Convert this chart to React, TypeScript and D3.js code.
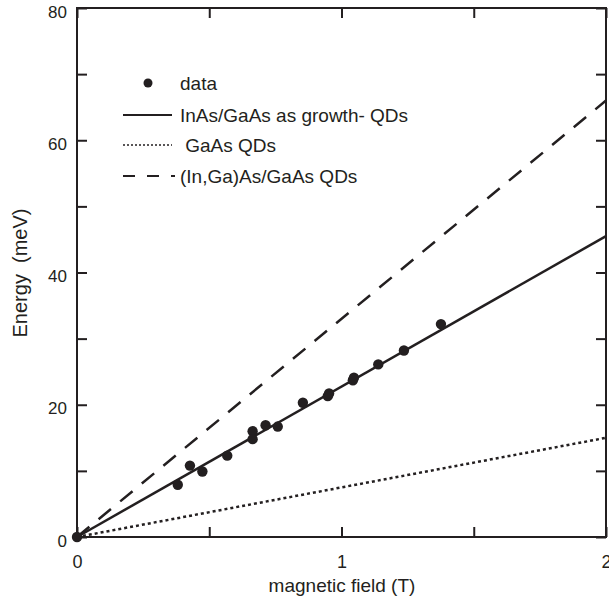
import React, { useRef, useEffect } from 'react';
import { select, scaleLinear, axisBottom, axisLeft, axisTop, axisRight, line } from 'd3';

// measured points (B in T, E in meV)
const fieldT = [0, 0.381, 0.427, 0.474, 0.568, 0.664, 0.664, 0.713, 0.759, 0.854, 0.948, 0.953, 1.043, 1.047, 1.139, 1.236, 1.376];
const energyMeV = [0, 7.9, 10.8, 9.9, 12.3, 16.0, 14.8, 16.9, 16.7, 20.3, 21.3, 21.7, 23.7, 24.1, 26.1, 28.2, 32.2];

// model lines: energy at 0 T and at 2 T
const lineField = [0, 2];
const inasLine = [0, 45.5];
const gaasLine = [0, 15];
const ingaasLine = [0, 66];

const xTicks = [0, 0.5, 1, 1.5, 2];
const yTicks = [0, 10, 20, 30, 40, 50, 60, 70, 80];

const legendLabels = ['data', 'InAs/GaAs as growth- QDs', ' GaAs QDs', '(In,Ga)As/GaAs QDs'];

const ink = '#231f20';
const font = 'Liberation Sans, Arial, Helvetica, sans-serif';

function App() {
  const ref = useRef(null);

  useEffect(() => {
    const svg = select(ref.current);
    svg.selectAll('*').remove();

    const x = scaleLinear().domain([0, 2]).range([77, 606]);
    const y = scaleLinear().domain([0, 80]).range([537, 8]);

    const fmtX = (d) => (d % 1 === 0 ? String(d) : '');
    const fmtY = (d) => (d % 20 === 0 ? String(d) : '');

    const styleAxis = (g) => {
      g.select('.domain').remove();
      g.selectAll('line').attr('stroke', ink).attr('stroke-width', 2);
      g.selectAll('text').attr('fill', ink).attr('font-size', 18).attr('font-family', font);
    };

    svg.append('g').attr('transform', 'translate(0,537)')
      .call(axisBottom(x).tickValues(xTicks).tickSizeInner(-10).tickSizeOuter(0).tickPadding(18).tickFormat(fmtX))
      .call(styleAxis);
    svg.append('g').attr('transform', 'translate(0,8)')
      .call(axisTop(x).tickValues(xTicks).tickSizeInner(-10).tickSizeOuter(0).tickFormat(() => ''))
      .call(styleAxis);
    svg.append('g').attr('transform', 'translate(77,0)')
      .call(axisLeft(y).tickValues(yTicks).tickSizeInner(-10).tickSizeOuter(0).tickPadding(10).tickFormat(fmtY))
      .call(styleAxis)
      .call((g) => g.selectAll('text').attr('font-size', 17).attr('dy', '0.53em'));
    svg.append('g').attr('transform', 'translate(606,0)')
      .call(axisRight(y).tickValues(yTicks).tickSizeInner(-10).tickSizeOuter(0).tickFormat(() => ''))
      .call(styleAxis);

    // frame
    svg.append('rect')
      .attr('x', x(0)).attr('y', y(80))
      .attr('width', x(2) - x(0)).attr('height', y(0) - y(80))
      .attr('fill', 'none').attr('stroke', ink).attr('stroke-width', 2);

    const lineGen = line().x((d) => x(d[0])).y((d) => y(d[1]));
    const toPts = (vals) => lineField.map((f, i) => [f, vals[i]]);

    svg.append('path').attr('d', lineGen(toPts(ingaasLine)))
      .attr('fill', 'none').attr('stroke', ink).attr('stroke-width', 2.5).attr('stroke-dasharray', '16,12');
    svg.append('path').attr('d', lineGen(toPts(gaasLine)))
      .attr('fill', 'none').attr('stroke', ink).attr('stroke-width', 2.5).attr('stroke-dasharray', '3,3');
    svg.append('path').attr('d', lineGen(toPts(inasLine)))
      .attr('fill', 'none').attr('stroke', ink).attr('stroke-width', 2.5);

    svg.selectAll('circle.pt')
      .data(fieldT.map((f, i) => [f, energyMeV[i]]))
      .enter()
      .append('circle')
      .attr('class', 'pt')
      .attr('cx', (d) => x(d[0]))
      .attr('cy', (d) => y(d[1]))
      .attr('r', 5.2)
      .attr('fill', ink);

    // legend
    const leg = svg.append('g').attr('font-family', font).attr('font-size', 19).attr('fill', ink);
    const rows = [83, 115, 145, 176];
    leg.append('circle').attr('cx', 148).attr('cy', rows[0]).attr('r', 4.5).attr('fill', ink);
    leg.append('line').attr('x1', 123).attr('x2', 172).attr('y1', rows[1]).attr('y2', rows[1])
      .attr('stroke', ink).attr('stroke-width', 2);
    leg.append('line').attr('x1', 123).attr('x2', 172).attr('y1', rows[2]).attr('y2', rows[2])
      .attr('stroke', ink).attr('stroke-width', 1.5).attr('stroke-dasharray', '2,2');
    leg.append('line').attr('x1', 123).attr('x2', 175).attr('y1', rows[3]).attr('y2', rows[3])
      .attr('stroke', ink).attr('stroke-width', 2).attr('stroke-dasharray', '12,12');
    legendLabels.forEach((t, i) => {
      leg.append('text').attr('x', 180).attr('y', rows[i]).attr('dy', '0.35em')
        .attr('xml:space', 'preserve').style('white-space', 'pre').text(t);
    });

    // axis titles
    svg.append('text').attr('x', 342).attr('y', 592).attr('text-anchor', 'middle')
      .attr('font-family', font).attr('font-size', 19).attr('fill', ink)
      .text('magnetic field (T)');
    svg.append('text').attr('transform', 'translate(27,273) rotate(-90)').attr('text-anchor', 'middle')
      .attr('font-family', font).attr('font-size', 20).attr('fill', ink)
      .style('white-space', 'pre')
      .text('Energy  (meV)');
  }, []);

  return (
    <svg ref={ref} width={609} height={605} style={{ position: 'absolute', left: 0, top: 0, background: '#fff' }} />
  );
}

export default App;
